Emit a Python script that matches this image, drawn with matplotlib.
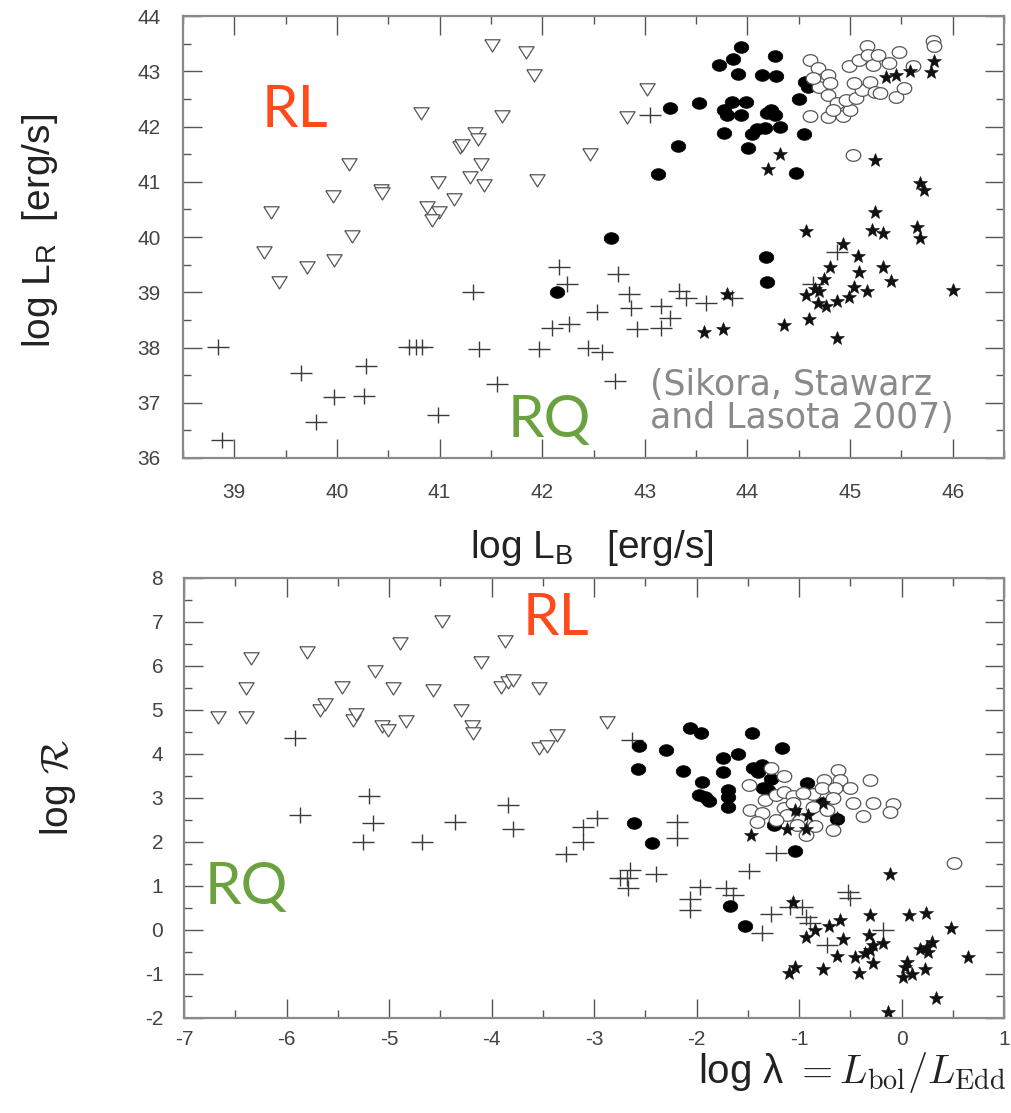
import numpy as np
import matplotlib
matplotlib.use("Agg")
import matplotlib.pyplot as plt
from matplotlib.ticker import MultipleLocator

plt.rcParams['font.family'] = ['Liberation Sans', 'DejaVu Sans']
plt.rcParams['mathtext.fontset'] = 'custom'
plt.rcParams['mathtext.rm'] = 'Liberation Sans'
plt.rcParams['mathtext.it'] = 'Liberation Sans:italic'
plt.rcParams['axes.unicode_minus'] = False

# ---- top panel: log L_B vs log L_R ----
top_tri_x = [41.51, 41.84, 41.92, 40.82, 41.61, 41.35, 41.37, 41.20, 41.22, 42.47, 40.12, 41.40, 41.30,
             41.43, 40.98, 41.95, 40.43, 40.44, 39.96, 41.14, 40.88, 40.99, 40.93, 39.36, 40.15, 39.29,
             39.97, 39.44, 39.71, 43.02, 42.83]
top_tri_y = [43.48, 43.34, 42.94, 42.24, 42.19, 41.89, 41.77, 41.63, 41.66, 41.50, 41.32, 41.32, 41.09,
             40.95, 41.00, 41.03, 40.85, 40.79, 40.75, 40.68, 40.54, 40.45, 40.31, 40.45, 40.01, 39.72,
             39.59, 39.19, 39.45, 42.68, 42.17]

top_cross_x = [42.16, 42.24, 41.33, 42.10, 42.26, 42.53, 38.84, 40.70, 40.77, 40.83, 41.38, 41.97, 42.45,
               39.65, 40.28, 39.97, 40.26, 41.56, 39.80, 40.98, 38.88, 42.74, 42.85, 42.87, 43.16, 42.92,
               43.16, 43.25, 43.33, 43.40, 43.60, 43.85, 42.58, 42.71, 44.87, 44.64, 43.05]
top_cross_y = [39.46, 39.15, 39.01, 38.35, 38.42, 38.65, 38.01, 38.01, 38.01, 38.01, 37.97, 37.98, 38.00,
               37.53, 37.66, 37.10, 37.13, 37.34, 36.65, 36.77, 36.33, 39.33, 38.97, 38.71, 38.75, 38.33,
               38.36, 38.53, 39.03, 38.89, 38.80, 38.89, 37.91, 37.40, 39.72, 39.15, 42.21]

top_fill_x = [43.94, 43.86, 43.72, 44.27, 43.91, 44.14, 44.28, 44.56, 44.59, 43.25, 43.53, 43.85, 43.99,
              43.77, 43.80, 43.94, 44.19, 44.23, 44.27, 44.50, 44.32, 44.17, 44.09, 44.04, 43.77, 44.55,
              44.01, 43.32, 43.13, 44.47, 42.67, 44.18, 44.19, 42.14]
top_fill_y = [43.44, 43.23, 43.11, 43.27, 42.95, 42.94, 42.92, 42.81, 42.71, 42.33, 42.42, 42.45, 42.45,
              42.30, 42.21, 42.21, 42.24, 42.30, 42.21, 42.49, 42.00, 41.97, 41.95, 41.86, 41.89, 41.86,
              41.62, 41.65, 41.14, 41.15, 39.99, 39.63, 39.18, 39.01]

top_open_x = [44.61, 44.69, 44.78, 44.70, 44.80, 44.78, 44.87, 44.61, 44.78, 44.93, 45.00, 44.96, 45.06,
              45.12, 45.19, 45.24, 45.29, 45.45, 45.53, 44.99, 45.09, 45.16, 45.17, 45.22, 45.27, 45.38,
              45.48, 45.61, 45.81, 45.82, 45.03, 44.64, 44.83, 45.04]
top_open_y = [43.20, 43.06, 42.94, 42.72, 42.79, 42.57, 42.42, 42.19, 42.17, 42.19, 42.30, 42.48, 42.51,
              42.66, 42.81, 42.63, 42.60, 42.53, 42.69, 43.09, 43.21, 43.46, 43.30, 43.12, 43.30, 43.15,
              43.34, 43.09, 43.54, 43.45, 41.48, 42.88, 42.30, 42.79]

top_star_x = [45.82, 45.79, 45.35, 45.45, 45.58, 44.32, 44.20, 45.24, 45.68, 45.72, 45.24, 44.57, 45.21,
              45.32, 45.65, 45.68, 44.93, 45.08, 44.80, 45.09, 45.32, 45.40, 44.75, 44.66, 44.70, 44.57,
              45.04, 45.16, 44.99, 44.87, 44.69, 44.77, 46.00, 43.80, 44.36, 44.60, 44.87, 43.58, 43.76]
top_star_y = [43.18, 42.98, 42.89, 42.94, 43.01, 41.50, 41.23, 41.39, 40.97, 40.85, 40.46, 40.10, 40.13,
              40.07, 40.19, 39.99, 39.88, 39.66, 39.45, 39.36, 39.46, 39.21, 39.24, 39.06, 39.03, 38.95,
              39.09, 39.03, 38.91, 38.85, 38.81, 38.75, 39.04, 38.97, 38.41, 38.51, 38.17, 38.28, 38.33]

# ---- bottom panel: log lambda vs log R ----
bot_tri_x = [-6.67, -6.40, -6.40, -6.35, -5.80, -5.67, -5.62, -5.46, -5.35, -5.32, -5.14, -4.96, -5.07,
             -5.01, -4.83, -4.89, -4.57, -4.48, -4.30, -4.19, -4.18, -4.10, -3.87, -3.91, -3.84, -3.79,
             -3.54, -3.54, -3.46, -3.36, -2.87]
bot_tri_y = [4.85, 5.51, 4.85, 6.17, 6.31, 5.00, 5.13, 5.53, 4.77, 4.90, 5.89, 5.51, 4.64,
             4.55, 4.75, 6.52, 5.45, 7.02, 5.00, 4.64, 4.47, 6.10, 6.57, 5.53, 5.64, 5.68,
             5.49, 4.13, 4.17, 4.43, 4.73]

bot_cross_x = [-5.92, -5.20, -5.87, -5.16, -5.25, -4.68, -4.36, -3.84, -3.79, -3.27, -3.11, -3.11, -2.97,
               -2.63, -2.19, -2.19, -1.22, -2.65, -2.75, -2.68, -2.67, -2.40, -1.49, -1.97, -2.06, -2.06,
               -1.71, -1.64, -0.52, -0.50, -1.27, -1.09, -0.97, -0.93, -1.36, -0.18, -0.73, -0.89]
bot_cross_y = [4.36, 3.05, 2.61, 2.44, 2.01, 2.01, 2.46, 2.84, 2.29, 1.73, 2.01, 2.35, 2.54,
               4.32, 2.46, 2.08, 1.74, 1.36, 1.17, 1.17, 0.95, 1.27, 1.33, 0.98, 0.70, 0.45,
               0.95, 0.80, 0.87, 0.72, 0.36, 0.53, 0.53, 0.30, -0.08, 0.00, -0.34, 0.15]

bot_fill_x = [-2.06, -1.96, -1.46, -1.17, -2.56, -2.30, -2.57, -2.13, -1.74, -1.60, -1.74, -1.45, -1.36,
              -1.40, -1.95, -1.27, -1.98, -1.92, -1.88, -1.69, -1.69, -1.35, -1.30, -0.92, -1.69, -1.06,
              -0.78, -0.63, -1.24, -2.61, -2.43, -1.04, -1.67, -1.53]
bot_fill_y = [4.58, 4.47, 4.48, 4.13, 4.18, 4.09, 3.66, 3.62, 3.90, 3.99, 3.60, 3.67, 3.75,
              3.58, 3.37, 3.43, 3.07, 3.03, 2.92, 3.18, 3.03, 3.22, 3.18, 3.35, 2.79, 2.73,
              2.88, 2.52, 2.39, 2.44, 1.97, 1.80, 0.55, 0.09]

bot_open_x = [-1.27, -1.15, -1.49, -1.33, -1.22, -1.15, -1.06, -0.86, -0.76, -0.62, -0.60, -0.78, -0.65,
              -0.50, -0.31, -0.67, -0.47, -0.28, -0.08, -0.11, -0.38, -1.48, -1.36, -1.41, -1.15, -1.12,
              -0.99, -0.93, -0.84, -0.67, -1.06, -0.86, -0.73, 0.51, -0.96, -1.22, -1.02]
bot_open_y = [3.67, 3.50, 3.30, 2.95, 3.07, 3.14, 3.05, 3.09, 3.41, 3.64, 3.41, 3.22, 3.22,
              3.22, 3.41, 2.99, 2.88, 2.88, 2.86, 2.69, 2.58, 2.73, 2.65, 2.46, 2.77, 2.61,
              2.50, 2.16, 2.36, 2.27, 2.88, 2.80, 2.73, 1.53, 3.11, 2.50, 2.39]

bot_star_x = [-1.47, -1.12, -1.04, -0.91, -0.93, -0.77, -0.63, -0.11, -1.06, -0.60, -0.71, -0.84, -0.93,
              -0.57, -0.31, 0.07, 0.24, 0.48, -0.32, -0.28, -0.31, -0.36, -0.18, -0.45, -0.63, -0.28,
              -0.41, -0.77, -1.10, -1.04, 0.18, 0.25, 0.30, 0.26, 0.05, 0.03, 0.01, 0.10, 0.23, 0.65,
              0.34, -0.13]
bot_star_y = [2.16, 2.29, 2.73, 2.61, 2.29, 2.88, 2.54, 1.27, 0.64, 0.23, 0.08, 0.00, -0.15,
              -0.21, 0.34, 0.34, 0.39, 0.04, -0.11, -0.34, -0.45, -0.53, -0.29, -0.62, -0.59, -0.74,
              -0.97, -0.89, -0.98, -0.85, -0.44, -0.38, -0.27, -0.49, -0.72, -0.85, -1.08, -1.00, -0.89, -0.62,
              -1.55, -1.86]

# marker shapes: squashed ellipse, flattened triangle, wide cross
t = np.linspace(0, 2 * np.pi, 40)
ellipse = list(zip(np.cos(t), 0.8 * np.sin(t)))
tri_down = [(-1, 0.75), (1, 0.75), (0, -0.85), (-1, 0.75)]
cross = matplotlib.path.Path([(-1, 0), (1, 0), (0, -0.75), (0, 0.75)],
                             [1, 2, 1, 2])

RED = '#ff4a1c'
GREEN = '#6ba23f'


def draw_sets(ax, tri, crs, fil, opn, st):
    ax.plot(*tri, ls='none', marker=tri_down, ms=11, mfc='white', mec='#555555', mew=0.9)
    ax.plot(*crs, ls='none', marker=cross, ms=16, mfc='none', mec='#3a3a3a', mew=1.0)
    ax.plot(*fil, ls='none', marker=ellipse, ms=10.5, mfc='black', mec='black', mew=0.5)
    ax.plot(*opn, ls='none', marker=ellipse, ms=10.5, mfc='white', mec='#555555', mew=0.9)
    ax.plot(*st, ls='none', marker='*', ms=10, mfc='#111111', mec='#111111', mew=0.4)


def style_axes(ax, xlim, ylim):
    ax.set_xlim(*xlim)
    ax.set_ylim(*ylim)
    ax.xaxis.set_major_locator(MultipleLocator(1))
    ax.xaxis.set_minor_locator(MultipleLocator(0.5))
    ax.yaxis.set_major_locator(MultipleLocator(1))
    ax.yaxis.set_minor_locator(MultipleLocator(0.5))
    ax.tick_params(which='both', direction='in', top=True, right=True, color='#555555')
    ax.tick_params(which='major', length=14, width=1.0, labelsize=15, labelcolor='#444444')
    ax.tick_params(which='minor', length=6, width=1.0)
    for s in ax.spines.values():
        s.set_color('#8a8a8a')
        s.set_linewidth(1.6)


fig = plt.figure(figsize=(10.11, 11.13), dpi=100)

ax1 = fig.add_axes([0.181, 0.5885, 0.8121, 0.3971])
draw_sets(ax1, (top_tri_x, top_tri_y), (top_cross_x, top_cross_y), (top_fill_x, top_fill_y),
          (top_open_x, top_open_y), (top_star_x, top_star_y))
style_axes(ax1, (38.5, 46.5), (36, 44))
ax1.tick_params(axis='x', which='major', pad=18)
ax1.tick_params(axis='y', which='major', pad=16)

ax2 = fig.add_axes([0.182, 0.0854, 0.8111, 0.3953])
draw_sets(ax2, (bot_tri_x, bot_tri_y), (bot_cross_x, bot_cross_y), (bot_fill_x, bot_fill_y),
          (bot_open_x, bot_open_y), (bot_star_x, bot_star_y))
style_axes(ax2, (-7, 1), (-2, 8))
ax2.tick_params(axis='x', which='major', pad=9)
ax2.tick_params(axis='y', which='major', pad=15)

# axis labels
fig.text(0.0396, 0.7925, r"log L$_{\mathrm{R}}$  [erg/s]", rotation=90, ha='center', va='center',
         fontsize=28, color='#222222')
fig.text(0.5856, 0.5076, r"log L$_{\mathrm{B}}$   [erg/s]", ha='center', va='center',
         fontsize=28, color='#222222')
fig.text(0.0574, 0.2929, r"log $\mathcal{R}$", rotation=90, ha='center', va='center',
         fontsize=28, color='#222222', math_fontfamily='cm')
fig.text(0.995, 0.036, r"log λ $= L_{\rm bol}/L_{\rm Edd}$", ha='right', va='center',
         fontsize=29, color='#222222', math_fontfamily='cm')

# RL / RQ annotations
big = dict(fontsize=42, family=['Lato', 'DejaVu Sans'], va='baseline', ha='left')
fig.text(0.259, 0.8859, "RL", color=RED, **big)
fig.text(0.5025, 0.6074, "RQ", color=GREEN, **big)
fig.text(0.5173, 0.4295, "RL", color=RED, **big)
fig.text(0.2028, 0.1878, "RQ", color=GREEN, **big)

cite = dict(fontsize=25, family=['DejaVu Sans'], color='#8a8a8a', va='baseline', ha='left')
fig.text(0.643, 1 - 395 / 1113, "(Sikora, Stawarz", **cite)
fig.text(0.643, 1 - 428 / 1113, "and Lasota 2007)", **cite)

fig.savefig("out.png", dpi=100)
